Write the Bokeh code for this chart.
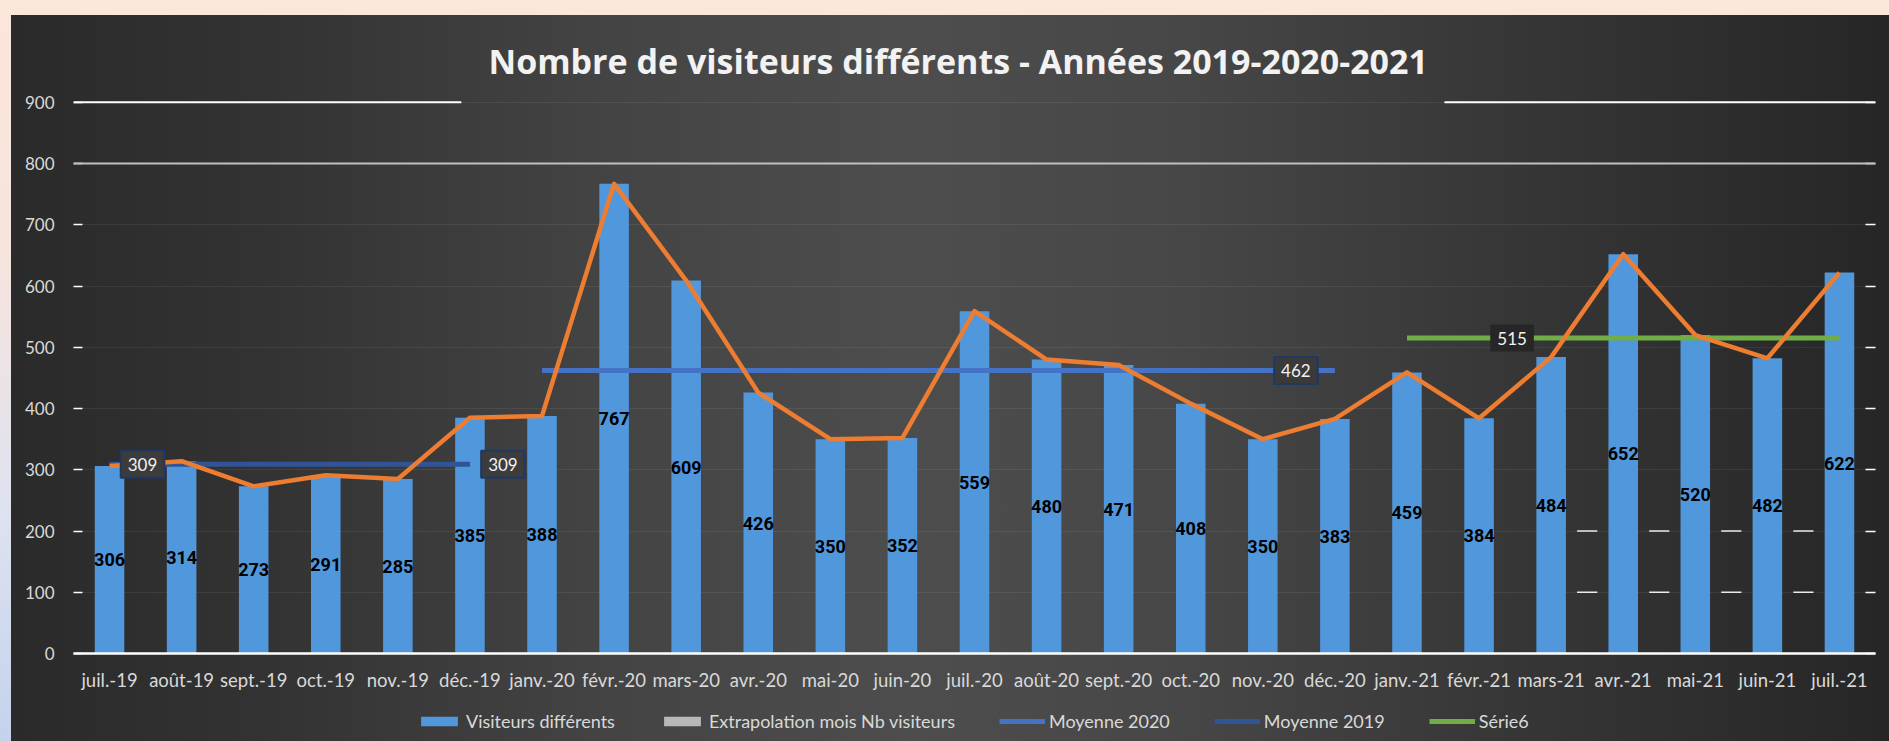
from bokeh.plotting import figure
from bokeh.models import (Range1d, FixedTicker, LinearAxis, Legend, LegendItem,
                          Label, ColumnDataSource, Span)
from bokeh.layouts import column
from bokeh.embed import file_html
from bokeh.resources import INLINE
from bokeh.core.properties import value

# ---------------- data ----------------
months = ["juil.-19", "août-19", "sept.-19", "oct.-19", "nov.-19", "déc.-19",
          "janv.-20", "févr.-20", "mars-20", "avr.-20", "mai-20", "juin-20",
          "juil.-20", "août-20", "sept.-20", "oct.-20", "nov.-20", "déc.-20",
          "janv.-21", "févr.-21", "mars-21", "avr.-21", "mai-21", "juin-21", "juil.-21"]
visitors = [306, 314, 273, 291, 285, 385, 388, 767, 609, 426, 350, 352, 559,
            480, 471, 408, 350, 383, 459, 384, 484, 652, 520, 482, 622]

avg_2019 = 309
avg_2019_span = ("juil.-19", "déc.-19")
avg_2020 = 462
avg_2020_span = ("janv.-20", "déc.-20")
serie6 = 515
serie6_span = ("janv.-21", "juil.-21")

y_ticks = [0, 100, 200, 300, 400, 500, 600, 700, 800, 900]

title_text = "Nombre de visiteurs différents - Années 2019-2020-2021"
legend_labels = ["Visiteurs différents", "Extrapolation mois Nb visiteurs",
                 "Moyenne 2020", "Moyenne 2019", "Série6"]

# ---------------- styling ----------------
FONT = "Lato"
LBL_COL = "#d9d9d9"
BAR_COL = "#5197dc"
EXTRAP_COL = "#b8b8b8"
ORANGE = "#ed7d31"
BLUE20 = "#4472c4"
BLUE19 = "#2f5597"
GREEN = "#70ad47"

idx = {m: i for i, m in enumerate(months)}
xs = list(range(len(months)))

src = ColumnDataSource(dict(
    x=xs, visitors=visitors,
    half=[v / 2 for v in visitors],
    label=[str(v) for v in visitors],
))


def avg_source(val, span):
    a, b = idx[span[0]], idx[span[1]]
    xx = list(range(a, b + 1))
    return ColumnDataSource(dict(x=xx, y=[val] * len(xx)))


W = 1878
p = figure(width=W, height=680,
           x_range=Range1d(-0.5, len(months) - 0.5),
           y_range=Range1d(0, 903),
           output_backend="svg", toolbar_location=None,
           title=title_text,
           min_border_left=62, min_border_right=14,
           min_border_top=85, min_border_bottom=42)
p.border_fill_color = None
p.background_fill_color = None
p.outline_line_color = None

# title
p.title.text_font = "Open Sans"
p.title.text_font_style = "bold"
p.title.text_font_size = "34px"
p.title.text_color = "#f2f2f2"
p.title.align = "left"
p.title.vertical_align = "top"
p.title.offset = 415
p.title.standoff = 30

# axes
xa = p.xaxis[0]
xa.ticker = FixedTicker(ticks=xs)
xa.major_label_overrides = {i: m for i, m in enumerate(months)}
xa.major_label_text_font = FONT
xa.major_label_text_font_size = "18.5px"
xa.major_label_text_color = LBL_COL
xa.major_label_standoff = 9
xa.major_tick_line_color = None
xa.minor_tick_line_color = None
xa.axis_line_color = "white"
xa.axis_line_width = 2.5

ya = p.yaxis[0]
ya.ticker = FixedTicker(ticks=y_ticks)
ya.major_label_text_font = FONT
ya.major_label_text_font_size = "17px"
ya.major_label_text_color = LBL_COL
ya.major_label_standoff = 19
ya.axis_line_color = None
ya.major_tick_in = 9
ya.major_tick_out = 0
ya.major_tick_line_color = "white"
ya.major_tick_line_width = 1.5
ya.minor_tick_line_color = None

ra = LinearAxis(ticker=FixedTicker(ticks=y_ticks))
ra.major_label_overrides = {t: "" for t in y_ticks}
ra.major_label_text_font_size = "1px"
ra.major_label_standoff = 0
ra.axis_line_color = None
ra.major_tick_in = 10
ra.major_tick_out = 0
ra.major_tick_line_color = "white"
ra.major_tick_line_width = 1.5
ra.minor_tick_line_color = None
p.add_layout(ra, "right")

p.xgrid.grid_line_color = None
p.ygrid.ticker = FixedTicker(ticks=y_ticks)
p.ygrid.grid_line_color = "white"
p.ygrid.grid_line_alpha = 0.07

# decorative bright grid pieces (as in the reference screenshot)
p.add_layout(Span(location=y_ticks[-2], dimension="width", line_color="#c0c0c0", line_width=2))
p.segment(x0=[-0.5, idx["janv.-21"] + 0.52], x1=[idx["nov.-19"] + 0.88, len(months) - 0.5],
          y0=[y_ticks[-1]] * 2, y1=[y_ticks[-1]] * 2, line_color="white", line_width=2)
gap_x = [i + 0.5 for i in range(idx["mars-21"], idx["juil.-21"])]
for lvl in (y_ticks[1], y_ticks[2]):
    p.segment(x0=[g - 0.14 for g in gap_x], x1=[g + 0.14 for g in gap_x],
              y0=[lvl] * len(gap_x), y1=[lvl] * len(gap_x),
              line_color="white", line_width=1.5, line_alpha=0.9)

# bars
p.vbar(x="x", top="visitors", width=0.41, source=src,
       fill_color=BAR_COL, line_color=None)

# averages
p.line("x", "y", source=avg_source(avg_2020, avg_2020_span), line_color=BLUE20, line_width=5)
p.line("x", "y", source=avg_source(avg_2019, avg_2019_span), line_color=BLUE19, line_width=5)
p.line("x", "y", source=avg_source(serie6, serie6_span), line_color=GREEN, line_width=5)

# orange trend line
p.line("x", "visitors", source=src, line_color=ORANGE, line_width=4.5,
       line_join="round")

# data labels inside bars
p.text(x="x", y="half", text="label", source=src,
       text_font=value("Roboto"), text_font_style="bold", text_font_size="18px",
       text_color="black", text_align="center", text_baseline="middle")


def box_label(x, y, txt, xoff, fill, border):
    lab = Label(x=x, y=y, text=txt, x_offset=xoff,
                text_align="center", text_baseline="middle",
                text_color="#f2f2f2", text_font=FONT, text_font_size="17px",
                background_fill_color=fill,
                border_line_color=border, border_line_width=2, padding=7)
    p.add_layout(lab)


box_label(idx[avg_2019_span[0]], avg_2019, str(avg_2019), 33, "#3c3c3c", "#1f3864")
box_label(idx[avg_2019_span[1]], avg_2019, str(avg_2019), 33, "#3c3c3c", "#1f3864")
box_label(idx[avg_2020_span[1]], avg_2020, str(avg_2020), -39, "#3a3a3a", "#1f3864")
box_label(idx[serie6_span[0]] + 1, serie6, str(serie6), 33, "#262626", None)

# ---------------- legend strip (separate small figure) ----------------
lf = figure(width=W, height=46, x_range=Range1d(0, 1), y_range=Range1d(0, 1),
            output_backend="svg", toolbar_location=None,
            x_axis_location=None, y_axis_location=None, min_border=0)
lf.border_fill_color = None
lf.background_fill_color = None
lf.outline_line_color = None
lf.grid.visible = False
# legend keys only (zero-size, nothing visible in the strip)
k_bar = lf.vbar(x=[0.5], top=[0], width=0.01, fill_color=BAR_COL, line_color=None)
k_ext = lf.vbar(x=[0.5], top=[0], width=0.01, fill_color=EXTRAP_COL, line_color=None)
k_20 = lf.line(x=[0.5, 0.5], y=[-1, -1], line_color=BLUE20, line_width=5)
k_19 = lf.line(x=[0.5, 0.5], y=[-1, -1], line_color=BLUE19, line_width=5)
k_6 = lf.line(x=[0.5, 0.5], y=[-1, -1], line_color=GREEN, line_width=5)

legend = Legend(items=[
    LegendItem(label=legend_labels[0], renderers=[k_bar]),
    LegendItem(label=legend_labels[1], renderers=[k_ext]),
    LegendItem(label=legend_labels[2], renderers=[k_20]),
    LegendItem(label=legend_labels[3], renderers=[k_19]),
    LegendItem(label=legend_labels[4], renderers=[k_6]),
], orientation="horizontal", location=(343, 9),
    glyph_width=46, glyph_height=12, label_standoff=4, spacing=44,
    label_text_font=FONT, label_text_font_size="18px", label_text_color=LBL_COL,
    background_fill_alpha=0, border_line_alpha=0, margin=0, padding=0)
lf.add_layout(legend, "center")

chart = column(p, lf, margin=(15, 0, 0, 11), spacing=0,
               styles={"background": "linear-gradient(90deg, #2a2a2a 0%, #333333 14%, #444444 32%, "
                                     "#4d4d4d 48%, #474747 62%, #383838 78%, #262626 100%)"})

page = column(chart, styles={"background": "linear-gradient(180deg, #fbe6da 0%, #f6e4de 35%, "
                                           "#dde2f0 70%, #c4d2ec 100%)"})

open("out.html", "w").write(file_html(page, INLINE))
